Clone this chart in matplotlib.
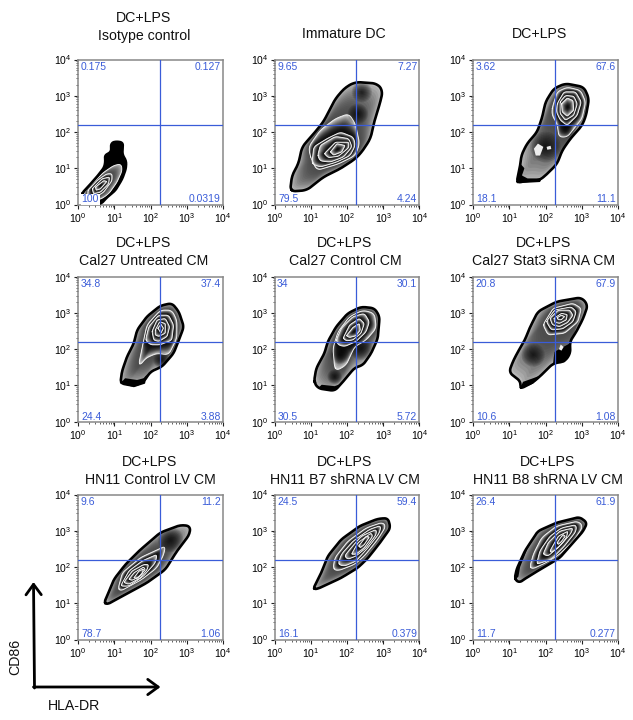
import matplotlib
matplotlib.use('Agg')
import matplotlib.pyplot as plt
import numpy as np
from matplotlib.ticker import LogFormatterMathtext, LogLocator, NullFormatter

plt.rcParams['font.family'] = ['Liberation Sans', 'DejaVu Sans']
plt.rcParams['mathtext.default'] = 'regular'

WIDTH, HEIGHT = 633, 720
BLUE = '#3a5cd8'

TITLES = [
    ['DC+LPS', 'Isotype control'], ['Immature DC'], ['DC+LPS'],
    ['DC+LPS', 'Cal27 Untreated CM'], ['DC+LPS', 'Cal27 Control CM'], ['DC+LPS', 'Cal27 Stat3 siRNA CM'],
    ['DC+LPS', 'HN11 Control LV CM'], ['DC+LPS', 'HN11 B7 shRNA LV CM'], ['DC+LPS', 'HN11 B8 shRNA LV CM'],
]
# quadrant percentages: top left, top right, bottom left, bottom right
QUADRANTS = [
    ['0.175', '0.127', '100', '0.0319'], ['9.65', '7.27', '79.5', '4.24'], ['3.62', '67.6', '18.1', '11.1'],
    ['34.8', '37.4', '24.4', '3.88'], ['34', '30.1', '30.5', '5.72'], ['20.8', '67.9', '10.6', '1.08'],
    ['9.6', '11.2', '78.7', '1.06'], ['24.5', '59.4', '16.1', '0.379'], ['26.4', '61.9', '11.7', '0.277'],
]
GATE_X = 180
GATE_Y = 160

# Contours as (log10 HLA-DR, log10 CD86), first one is the outline, then going inwards
P1_RINGS = [
    [(0.11, 0.31), (0.27, 0.48), (0.52, 0.76), (0.73, 1.03), (0.76, 1.23), (0.73, 1.35), (0.92, 1.45), (0.91, 1.69), (1.03, 1.74), (1.24, 1.71), (1.22, 1.38), (1.33, 1.20), (1.32, 0.99), (1.22, 0.71), (1.03, 0.39), (0.80, 0.20), (0.64, 0.02), (0.16, 0.0)],
    [(0.16, 0.34), (0.43, 0.62), (0.71, 0.89), (0.99, 1.08), (1.19, 1.12), (1.22, 0.94), (1.08, 0.62), (0.85, 0.29), (0.62, 0.14), (0.20, 0.11)],
    [(0.27, 0.39), (0.52, 0.66), (0.80, 0.85), (0.94, 0.85), (0.94, 0.66), (0.71, 0.34), (0.48, 0.20), (0.27, 0.20)],
    [(0.39, 0.43), (0.66, 0.71), (0.87, 0.76), (0.85, 0.57), (0.62, 0.34), (0.43, 0.29)],
    [(0.48, 0.48), (0.71, 0.66), (0.80, 0.64), (0.62, 0.43), (0.50, 0.39)],
]
P2_RINGS = [
    [(0.43, 0.36), (0.48, 0.80), (0.66, 1.12), (0.76, 1.59), (1.08, 1.95), (1.35, 2.28), (1.68, 2.92), (1.95, 3.23), (2.23, 3.38), (2.83, 3.34), (2.99, 3.15), (2.92, 2.83), (2.76, 2.32), (2.65, 1.82), (2.41, 1.45), (2.23, 1.26), (1.82, 0.99), (1.35, 0.76), (0.89, 0.39)],
    [(0.99, 1.31), (0.94, 1.59), (1.26, 2.05), (1.68, 2.37), (2.05, 2.51), (2.23, 2.23), (2.35, 1.68), (2.23, 1.35), (1.77, 1.12), (1.17, 0.94)],
    [(1.03, 1.12), (1.08, 1.59), (1.45, 1.82), (1.82, 2.00), (2.18, 1.86), (2.23, 1.63), (2.09, 1.35), (1.72, 1.17), (1.26, 1.03)],
    [(1.19, 1.35), (1.26, 1.63), (1.68, 1.88), (2.05, 1.82), (2.14, 1.59), (1.91, 1.31), (1.54, 1.17), (1.26, 1.20)],
    [(1.37, 1.40), (1.68, 1.72), (2.05, 1.72), (2.05, 1.57), (1.77, 1.33), (1.49, 1.29)],
    [(1.54, 1.45), (1.72, 1.68), (1.95, 1.63), (1.86, 1.45), (1.63, 1.36)],
]
P3_RINGS = [
    [(1.20, 0.59), (1.31, 1.12), (1.33, 1.35), (1.49, 1.68), (1.77, 2.00), (1.91, 2.41), (2.00, 2.83), (2.23, 3.20), (2.55, 3.34), (3.06, 3.24), (3.20, 2.92), (3.12, 2.46), (3.01, 2.18), (2.69, 1.82), (2.46, 1.49), (2.32, 1.12), (2.00, 0.80), (1.82, 0.66), (1.49, 0.66)],
    [(2.18, 2.65), (2.32, 3.11), (2.60, 3.24), (2.97, 3.15), (3.11, 2.83), (3.01, 2.37), (2.60, 1.86), (2.37, 1.86), (2.32, 2.23), (2.18, 2.46)],
    [(2.32, 2.78), (2.51, 3.11), (2.83, 3.11), (2.99, 2.83), (2.88, 2.46), (2.60, 2.18), (2.41, 2.32), (2.30, 2.55)],
    [(2.40, 2.83), (2.55, 3.01), (2.78, 2.99), (2.88, 2.78), (2.78, 2.46), (2.55, 2.32), (2.40, 2.51)],
    [(2.44, 2.78), (2.60, 2.94), (2.76, 2.87), (2.78, 2.60), (2.60, 2.43), (2.46, 2.55)],
]
P4_RINGS = [
    [(1.17, 1.06), (1.21, 1.38), (1.35, 1.79), (1.54, 2.16), (1.63, 2.53), (1.90, 2.90), (2.27, 3.20), (2.59, 3.27), (2.78, 3.04), (2.92, 2.62), (2.82, 2.35), (2.64, 1.89), (2.32, 1.52), (2.00, 1.38), (1.81, 1.10), (1.54, 0.99)],
    [(1.67, 1.56), (1.81, 2.25), (1.90, 2.67), (2.27, 3.08), (2.59, 3.08), (2.73, 2.80), (2.73, 2.30), (2.50, 1.84), (2.18, 1.89), (1.86, 1.75), (1.72, 1.55)],
    [(1.86, 2.25), (1.95, 2.62), (2.22, 2.94), (2.50, 2.94), (2.64, 2.67), (2.59, 2.25), (2.27, 2.12), (2.00, 2.12)],
    [(2.04, 2.49), (2.18, 2.81), (2.41, 2.85), (2.53, 2.62), (2.46, 2.35), (2.23, 2.21), (2.09, 2.25)],
    [(2.13, 2.53), (2.25, 2.76), (2.41, 2.71), (2.41, 2.44), (2.23, 2.35), (2.13, 2.39)],
    [(2.20, 2.58), (2.29, 2.69), (2.36, 2.58), (2.29, 2.44)],
]
P5_RINGS = [
    [(1.09, 1.10), (1.15, 1.47), (1.38, 1.89), (1.47, 2.21), (1.70, 2.62), (2.02, 2.99), (2.39, 3.17), (2.76, 3.13), (2.90, 2.90), (2.85, 2.30), (2.67, 1.89), (2.44, 1.56), (2.21, 1.49), (1.93, 1.15), (1.66, 0.85), (1.20, 0.92)],
    [(1.66, 1.47), (1.61, 2.02), (1.75, 2.48), (2.07, 2.90), (2.44, 3.08), (2.76, 2.99), (2.81, 2.58), (2.53, 2.25), (2.21, 2.07), (1.98, 1.56), (1.70, 1.40)],
    [(1.70, 2.25), (1.84, 2.58), (2.16, 2.90), (2.48, 2.99), (2.62, 2.76), (2.53, 2.48), (2.25, 2.21), (1.93, 2.07), (1.75, 2.12)],
    [(1.89, 2.30), (2.07, 2.67), (2.34, 2.85), (2.48, 2.71), (2.39, 2.44), (2.16, 2.25), (1.98, 2.23)],
    [(1.98, 2.37), (2.16, 2.60), (2.34, 2.71), (2.37, 2.53), (2.25, 2.37), (2.07, 2.32)],
]
P6_RINGS = [
    [(1.29, 0.90), (1.33, 1.10), (0.99, 1.36), (1.10, 1.66), (1.24, 1.93), (1.43, 2.25), (1.56, 2.58), (1.79, 3.04), (2.30, 3.31), (2.99, 3.43), (3.17, 3.22), (3.04, 2.85), (2.85, 2.48), (2.67, 2.21), (2.69, 1.89), (2.53, 1.66), (2.21, 1.61), (1.89, 1.29), (1.66, 1.09)],
    [(1.93, 2.67), (2.21, 3.13), (2.76, 3.27), (2.99, 3.13), (2.90, 2.76), (2.53, 2.44), (2.07, 2.39)],
    [(2.02, 2.76), (2.25, 3.08), (2.71, 3.17), (2.85, 3.04), (2.76, 2.76), (2.48, 2.56), (2.16, 2.53)],
    [(2.12, 2.85), (2.35, 3.08), (2.67, 3.08), (2.76, 2.94), (2.62, 2.74), (2.39, 2.62), (2.19, 2.67)],
    [(2.23, 2.85), (2.44, 2.99), (2.60, 2.96), (2.58, 2.81), (2.39, 2.71), (2.25, 2.74)],
    [(2.32, 2.87), (2.44, 2.94), (2.53, 2.90), (2.44, 2.81), (2.35, 2.81)],
]
P7_RINGS = [
    [(0.71, 0.99), (0.82, 1.24), (0.99, 1.66), (1.31, 2.07), (1.68, 2.44), (2.27, 2.95), (2.83, 3.16), (3.10, 3.13), (3.08, 2.90), (2.73, 2.44), (2.41, 1.93), (1.91, 1.57), (1.40, 1.29), (1.08, 1.12), (0.80, 0.96)],
    [(1.10, 1.38), (1.22, 1.84), (1.72, 2.26), (2.41, 2.58), (2.37, 2.35), (2.18, 1.98), (1.77, 1.66), (1.35, 1.43), (1.17, 1.33)],
    [(1.17, 1.47), (1.40, 1.89), (1.77, 2.17), (2.18, 2.35), (2.14, 2.12), (1.81, 1.75), (1.40, 1.47)],
    [(1.26, 1.57), (1.49, 1.89), (1.81, 2.07), (1.95, 2.07), (1.91, 1.93), (1.72, 1.70), (1.40, 1.52)],
    [(1.40, 1.66), (1.54, 1.84), (1.81, 2.00), (1.86, 1.93), (1.68, 1.73), (1.49, 1.63)],
    [(1.54, 1.70), (1.68, 1.89), (1.81, 1.95), (1.77, 1.81), (1.63, 1.68)],
]
P8_RINGS = [
    [(1.06, 1.38), (1.29, 1.84), (1.47, 2.30), (1.84, 2.76), (2.35, 3.13), (2.85, 3.33), (3.13, 3.35), (3.20, 3.08), (2.94, 2.71), (2.58, 2.25), (2.30, 1.98), (1.84, 1.70), (1.20, 1.40)],
    [(1.61, 1.93), (1.66, 2.25), (2.02, 2.71), (2.53, 3.08), (2.99, 3.24), (3.08, 3.13), (2.85, 2.76), (2.48, 2.30), (2.21, 2.07), (1.75, 1.89)],
    [(1.75, 2.07), (1.84, 2.35), (2.16, 2.71), (2.62, 3.04), (2.94, 3.15), (2.90, 2.94), (2.58, 2.53), (2.25, 2.16), (1.93, 2.02)],
    [(1.93, 2.30), (2.07, 2.48), (2.39, 2.85), (2.81, 3.04), (2.81, 2.90), (2.53, 2.53), (2.25, 2.30), (2.02, 2.21)],
    [(2.12, 2.35), (2.30, 2.67), (2.67, 2.94), (2.71, 2.85), (2.48, 2.53), (2.25, 2.35)],
    [(2.32, 2.58), (2.53, 2.85), (2.62, 2.83), (2.48, 2.62), (2.37, 2.53)],
]
P9_RINGS = [
    [(1.15, 1.67), (1.20, 1.93), (1.43, 2.44), (1.79, 2.99), (2.30, 3.22), (2.94, 3.38), (3.15, 3.22), (3.04, 2.99), (2.76, 2.67), (2.39, 2.25), (1.93, 1.98), (1.47, 1.70), (1.27, 1.56)],
    [(1.56, 1.98), (1.66, 2.35), (1.89, 2.81), (2.30, 3.13), (2.90, 3.27), (3.04, 3.13), (2.81, 2.76), (2.39, 2.35), (2.02, 2.12), (1.61, 1.93)],
    [(1.75, 2.07), (1.84, 2.44), (2.12, 2.85), (2.44, 3.08), (2.85, 3.17), (2.85, 2.99), (2.53, 2.58), (2.16, 2.21)],
    [(1.93, 2.35), (2.07, 2.67), (2.39, 2.99), (2.76, 3.08), (2.71, 2.94), (2.44, 2.62), (2.07, 2.30)],
    [(2.12, 2.44), (2.35, 2.85), (2.62, 2.99), (2.58, 2.81), (2.35, 2.53), (2.16, 2.39)],
    [(2.32, 2.67), (2.48, 2.90), (2.55, 2.85), (2.43, 2.69), (2.35, 2.62)],
]
ALL_RINGS = [P1_RINGS, P2_RINGS, P3_RINGS, P4_RINGS, P5_RINGS, P6_RINGS, P7_RINGS, P8_RINGS, P9_RINGS]

# Dense spots away from the main peak: x, y, radius
SPOTS = [
    [],
    [(2.41, 3.10, 0.28), (2.30, 2.50, 0.28)],
    [(2.00, 1.59, 0.42), (2.55, 2.05, 0.22)],
    [(2.3, 1.7, 0.22)],
    [(1.79, 1.84, 0.25), (2.39, 2.02, 0.32), (1.66, 1.24, 0.2)],
    [(1.66, 1.84, 0.32)],
    [(2.55, 2.76, 0.35)],
    [],
    [],
]
# Solid black regions at the sparse edges
BLACK = [
    [],
    [],
    [[(1.20, 0.59), (1.31, 1.12), (1.42, 1.00), (1.35, 0.80), (1.50, 0.72), (1.90, 0.72), (1.85, 0.62), (1.49, 0.60)]],
    [[(1.17, 1.06), (1.30, 1.20), (1.63, 1.15), (1.81, 1.20), (1.90, 1.30), (1.85, 1.05), (1.54, 0.95)]],
    [[(1.20, 0.92), (1.30, 1.02), (1.66, 0.98), (1.85, 1.05), (1.66, 0.85)]],
    [[(2.25, 1.93), (2.67, 2.16), (2.69, 1.89), (2.53, 1.64), (2.21, 1.61), (2.23, 1.79)],
     [(1.29, 0.90), (1.38, 1.10), (1.66, 1.20), (1.89, 1.29), (1.66, 1.05)]],
    [],
    [],
    [[(1.15, 1.67), (1.20, 1.93), (1.43, 2.44), (1.79, 2.99), (1.50, 2.50), (1.30, 2.00), (1.25, 1.72)]],
]
HOLES = [
    [], [],
    [[(1.68, 1.54), (1.79, 1.68), (1.94, 1.59), (1.85, 1.35), (1.73, 1.35)], [(2.03, 1.59), (2.14, 1.62), (2.16, 1.53), (2.05, 1.51)]],
    [], [],
    [[(2.37, 2.00), (2.42, 2.13), (2.50, 2.06), (2.44, 1.96)]],
    [], [], [],
]

LEFTS = [78, 274.5, 473]
TOPS = [59.5, 276.7, 494.5]
PANEL_SIZE = 145
TITLE_X = [[144, 344, 540], [144, 345, 544], [150, 345, 548]]
TITLE_Y = [[18, 36], [243, 261], [462, 480]]


def closed_smooth(pts, smooth):
    kernel = np.ones(smooth) / smooth
    wrapped = np.r_[pts[-smooth:], pts, pts[:smooth]]
    xs = np.convolve(wrapped[:, 0], kernel, mode='same')[smooth:-smooth]
    ys = np.convolve(wrapped[:, 1], kernel, mode='same')[smooth:-smooth]
    return np.c_[xs, ys]


def along_path(ring, n=180, smooth=7):
    pts = np.array(ring + [ring[0]], dtype=float)
    dist = np.r_[0, np.cumsum(np.hypot(*np.diff(pts, axis=0).T))]
    grid = np.linspace(0, dist[-1], n, endpoint=False)
    return closed_smooth(np.c_[np.interp(grid, dist, pts[:, 0]), np.interp(grid, dist, pts[:, 1])], smooth)


def by_angle(shape, n=240):
    # same angle grid round each ring's own middle, so neighbouring rings blend without twisting
    centre = shape.mean(axis=0)
    delta = shape - centre
    if np.sum(delta[:-1, 0] * delta[1:, 1] - delta[1:, 0] * delta[:-1, 1]) < 0:
        delta = delta[::-1]
    angle = np.maximum.accumulate(np.unwrap(np.arctan2(delta[:, 1], delta[:, 0])))
    radius = np.hypot(delta[:, 0], delta[:, 1])
    grid = np.linspace(-np.pi, np.pi, n, endpoint=False)
    r = np.interp(grid, angle, radius, period=2 * np.pi)
    return centre + np.c_[r * np.cos(grid), r * np.sin(grid)]


def fill_log(ax, pts, **kwargs):
    return ax.fill(10 ** pts[:, 0], 10 ** pts[:, 1], **kwargs)[0]


def draw_zebra(ax, rings, spots, black, holes, solid_outer):
    shapes = [along_path(rings[0])] + [along_path(r, smooth=11) for r in rings[1:]]
    base = 'black' if solid_outer else '0.7'
    outline = fill_log(ax, shapes[0], facecolor=base, lw=0, zorder=2)

    radial = [by_angle(s) for s in shapes]
    start = 1 if solid_outer else 0
    for i in range(start, len(radial)):
        inner = radial[i + 1] if i + 1 < len(radial) else np.tile(radial[i].mean(axis=0), (len(radial[i]), 1))
        light = 0.72 if i == start else 0.8
        dark = 0.3 if i == start else 0.05
        for t in np.linspace(0, 0.97, 16):
            grey = dark + (light - dark) * (1 - t) ** 2
            fill_log(ax, radial[i] * (1 - t) + inner * t, color=str(grey), lw=0, zorder=3).set_clip_path(outline)

    for x, y, r in spots:
        theta = np.linspace(0, 2 * np.pi, 50)
        for scale in np.linspace(1, 0.1, 10):
            circle = np.c_[x + r * scale * np.cos(theta), y + r * scale * np.sin(theta)]
            fill_log(ax, circle, color='black', alpha=0.12, lw=0, zorder=3.5).set_clip_path(outline)

    for shape in shapes[1:]:
        ax.plot(10 ** np.r_[shape[:, 0], shape[0, 0]], 10 ** np.r_[shape[:, 1], shape[0, 1]],
                color='0.95', lw=0.65, zorder=4)
    for poly in black:
        fill_log(ax, along_path(poly, smooth=3), color='black', lw=0, zorder=4.5)
    for poly in holes:
        fill_log(ax, along_path(poly, smooth=3), color='0.93', lw=0, zorder=4.5)
    ax.plot(10 ** np.r_[shapes[0][:, 0], shapes[0][0, 0]], 10 ** np.r_[shapes[0][:, 1], shapes[0][0, 1]],
            color='black', lw=1.9, zorder=5)


fig = plt.figure(figsize=(WIDTH / 100, HEIGHT / 100), dpi=100)
overlay = fig.add_axes([0, 0, 1, 1], zorder=5)
overlay.set_xlim(0, WIDTH)
overlay.set_ylim(HEIGHT, 0)
overlay.axis('off')
overlay.patch.set_alpha(0)

for idx in range(9):
    row, col = idx // 3, idx % 3
    ax = fig.add_axes([LEFTS[col] / WIDTH, 1 - (TOPS[row] + PANEL_SIZE) / HEIGHT,
                       PANEL_SIZE / WIDTH, PANEL_SIZE / HEIGHT])
    ax.set_xscale('log')
    ax.set_yscale('log')
    draw_zebra(ax, ALL_RINGS[idx], SPOTS[idx], BLACK[idx], HOLES[idx], solid_outer=(idx == 0))
    ax.set_xlim(1, 1e4)
    ax.set_ylim(1, 1e4)

    ax.axvline(GATE_X, color=BLUE, lw=0.9, zorder=6)
    ax.axhline(GATE_Y, color=BLUE, lw=0.9, zorder=6)

    for axis in (ax.xaxis, ax.yaxis):
        axis.set_major_locator(LogLocator(base=10, numticks=5))
        axis.set_major_formatter(LogFormatterMathtext())
        axis.set_minor_locator(LogLocator(base=10, subs=np.arange(2, 10), numticks=5))
        axis.set_minor_formatter(NullFormatter())
    ax.tick_params(which='major', length=3, width=0.8, labelsize=7.5, pad=1.5, color='#222222')
    ax.tick_params(which='minor', length=1.5, width=0.5, color='#222222')
    for side, spine in ax.spines.items():
        spine.set_color('#888888')
        spine.set_linewidth(1.1)

    tl, tr, bl, br = QUADRANTS[idx]
    kw = dict(transform=ax.transAxes, color=BLUE, fontsize=7.5, zorder=8)
    ax.text(0.018, 0.95, tl, ha='left', va='center', **kw)
    ax.text(0.985, 0.95, tr, ha='right', va='center', **kw)
    box = dict(facecolor='white', edgecolor='none', pad=0.5) if idx == 0 else None
    ax.text(0.025, 0.035, bl, ha='left', va='center', bbox=box, **kw)
    ax.text(0.985, 0.035, br, ha='right', va='center', **kw)

    lines = TITLES[idx]
    ys = TITLE_Y[row] if len(lines) == 2 else [TITLE_Y[row][1] - 2]
    for text, y in zip(lines, ys):
        overlay.text(TITLE_X[row][col], y, text, ha='center', va='center', fontsize=10.2, color='#111111')

# Axis arrows in the lower left corner
arrow = dict(arrowstyle='->,head_length=0.75,head_width=0.55', color='black', lw=2, shrinkA=0, shrinkB=0)
overlay.annotate('', xy=(33.5, 582), xytext=(34.5, 688), arrowprops=arrow)
overlay.annotate('', xy=(160.5, 687), xytext=(33.5, 687), arrowprops=arrow)
overlay.text(15, 657, 'CD86', rotation=90, ha='center', va='center', fontsize=10.2, color='#111111')
overlay.text(74, 706, 'HLA-DR', ha='center', va='center', fontsize=10.2, color='#111111')

fig.savefig('out.png', dpi=100)
